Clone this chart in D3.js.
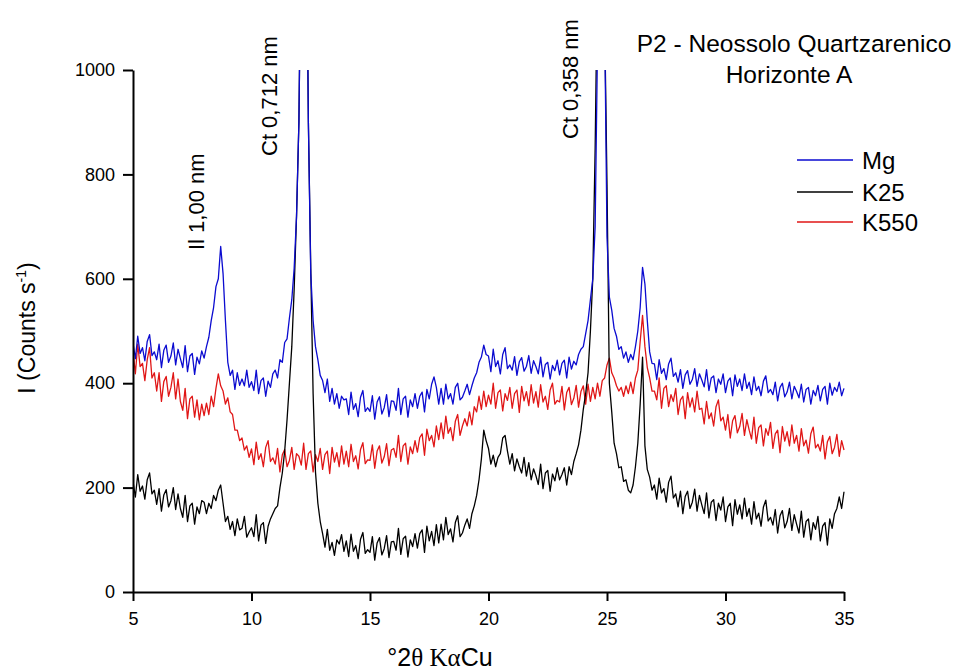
<!DOCTYPE html>
<html><head><meta charset="utf-8">
<script src="https://cdn.jsdelivr.net/npm/d3@7"></script>
<style>body{margin:0;background:#fff}svg{display:block}</style>
</head><body>
<svg id="chart" width="964" height="672"></svg>
<script>
// ---- data ----
const xTicks = [5, 10, 15, 20, 25, 30, 35];
const yTicks = [0, 200, 400, 600, 800, 1000];
const seriesNames = ["Mg", "K25", "K550"];
const angleStart = 5;   // °2θ of first sample
const angleStep = 0.1;  // °2θ between samples
const peakLabels = ["Il 1,00 nm", "Ct 0,712 nm", "Ct 0,358 nm"];
const titleLines = ["P2 - Neossolo Quartzarenico", "Horizonte A"];

const mg = [
 477,447,490,457,468,443,480,493,453,460,
 445,475,430,463,473,440,452,477,435,465,
 447,430,472,422,452,457,417,450,437,462,
 448,470,488,520,545,585,600,662,610,520,
 440,415,425,388,420,396,408,395,425,392,
 403,386,425,380,405,410,375,404,392,418,
 425,410,445,440,478,485,525,560,620,720,
 900,1300,1600,1400,900,610,520,470,445,415,
 405,382,408,365,390,360,380,352,375,368,
 370,340,383,350,361,336,373,386,346,353,
 346,376,331,364,374,341,353,378,336,366,
 365,348,390,340,370,375,335,368,355,380,
 352,375,383,345,388,370,398,412,392,360,
 390,360,398,370,380,360,392,400,368,373,
 385,398,378,395,410,420,440,450,473,455,
 452,422,465,432,443,418,455,468,428,435,
 425,451,415,441,449,423,432,453,419,443,
 432,418,450,412,436,440,408,434,424,444,
 416,438,444,410,450,427,442,435,455,465,
 470,495,520,560,600,700,1050,1500,1400,1100,
 680,565,540,505,490,465,470,448,460,440,
 455,445,470,500,545,622,590,520,460,438,
 437,407,445,419,428,407,437,448,413,420,
 402,426,390,416,424,398,407,428,394,418,
 406,393,426,386,410,414,382,408,398,418,
 382,404,410,376,416,394,408,386,418,390,
 402,378,412,386,394,376,404,414,382,388,
 378,402,366,392,400,374,383,402,370,394,
 384,372,398,364,388,392,360,386,376,396,
 366,388,394,360,400,377,392,384,402,376,
 390
];
const k25 = [
 212,182,225,193,203,178,215,228,188,195,
 168,198,155,186,196,163,175,200,158,188,
 160,143,185,135,165,170,130,163,150,175,
 172,150,170,160,185,175,195,205,170,135,
 145,120,135,108,140,119,122,145,105,115,
 123,106,148,98,128,133,93,126,140,150,
 160,165,200,228,270,330,400,470,580,720,
 900,1300,1600,1400,900,620,380,230,170,135,
 112,86,120,80,95,70,100,92,110,78,
 98,68,111,78,89,64,101,114,74,81,
 76,106,61,94,104,71,83,108,66,96,
 97,80,122,72,102,107,67,100,87,112,
 84,112,119,76,126,98,116,89,129,94,
 130,100,143,110,121,96,133,146,106,113,
 128,140,122,150,165,185,215,255,310,290,
 275,245,262,240,258,265,295,300,270,245,
 265,232,255,240,228,258,222,248,215,236,
 223,206,245,198,228,233,193,226,213,238,
 215,225,238,205,240,225,250,265,282,310,
 350,380,420,500,600,850,1200,1550,1450,1100,
 780,400,345,285,265,238,240,212,215,195,
 190,205,240,285,360,450,280,235,220,195,
 205,178,218,190,198,172,210,222,180,188,
 163,193,150,183,193,160,172,197,155,185,
 167,150,190,142,172,177,137,170,157,182,
 135,163,170,127,177,149,167,140,180,145,
 160,130,173,140,151,126,163,176,136,143,
 128,158,113,146,156,123,135,160,118,148,
 130,113,155,105,135,140,100,133,120,145,
 98,126,133,90,140,122,150,160,182,160,
 192
];
const k550 = [
 462,418,475,432,438,405,445,468,410,420,
 385,420,365,403,413,375,392,420,370,408,
 365,348,390,332,370,375,335,368,330,360,
 338,362,340,375,355,390,418,395,385,360,
 372,345,340,310,310,290,295,272,280,258,
 274,244,287,254,265,240,277,290,250,257,
 245,275,230,263,273,240,252,277,235,265,
 260,243,285,235,265,270,230,263,250,275,
 235,263,270,227,277,249,267,240,280,245,
 270,240,283,250,261,236,273,286,246,253,
 252,282,237,270,280,247,259,284,242,272,
 275,258,300,250,280,285,245,278,265,290,
 268,296,303,262,312,290,300,278,318,292,
 324,294,337,304,315,290,327,340,300,318,
 332,318,345,320,355,345,375,350,385,355,
 377,360,400,352,382,387,347,380,367,392,
 352,380,387,344,394,366,384,357,397,362,
 384,354,397,364,375,350,387,400,360,367,
 364,394,349,382,392,359,371,396,354,384,
 395,360,398,365,392,370,400,375,405,410,
 435,448,420,410,395,385,392,375,395,380,
 402,380,410,425,480,530,470,430,410,385,
 385,368,410,352,390,395,355,378,365,390,
 340,368,375,332,382,354,372,345,385,350,
 352,322,365,332,343,318,355,368,328,335,
 310,340,295,328,338,305,317,342,300,330,
 310,293,335,285,315,320,280,313,300,325,
 275,303,310,267,317,289,307,280,320,285,
 300,270,313,280,291,266,303,316,276,283,
 270,300,255,288,298,265,277,302,260,290,
 272
];

// ---- drawing ----
const FONT = "'Liberation Sans', Arial, sans-serif";
const SERIF = "'Liberation Serif', 'Times New Roman', serif";
const colors = {Mg: "#0b0bd0", K25: "#000000", K550: "#e01616"};
const seriesData = {Mg: mg, K25: k25, K550: k550};

const svg = d3.select("#chart");
const pL = 133, pR = 844, pT = 70, pB = 592;
const x = d3.scaleLinear().domain([5, 35]).range([pL, pR]);
const y = d3.scaleLinear().domain([0, 1000]).range([pB, pT]);

svg.append("defs").append("clipPath").attr("id", "plotclip")
  .append("rect").attr("x", pL).attr("y", pT).attr("width", pR - pL + 2).attr("height", pB - pT);

const line = d3.line()
  .x((d, i) => x(angleStart + i * angleStep))
  .y(d => y(d));

const plot = svg.append("g").attr("clip-path", "url(#plotclip)");
["K550", "K25", "Mg"].forEach(name => {
  plot.append("path").datum(seriesData[name])
    .attr("fill", "none").attr("stroke", colors[name])
    .attr("stroke-width", 1.3).attr("stroke-linejoin", "round")
    .attr("d", line);
});

// axes
const yAxis = svg.append("g").attr("transform", `translate(${pL},0)`)
  .call(d3.axisLeft(y).tickValues(yTicks).tickFormat(d3.format("d")).tickSize(10).tickSizeOuter(0).tickPadding(8));
const xAxis = svg.append("g").attr("transform", `translate(0,${pB})`)
  .call(d3.axisBottom(x).tickValues(xTicks).tickFormat(d3.format("d")).tickSize(9).tickSizeOuter(0).tickPadding(11));
[yAxis, xAxis].forEach(g => {
  g.selectAll("path, line").attr("stroke", "#000").attr("stroke-width", 2);
  g.selectAll("text").attr("fill", "#000").style("font-family", FONT).style("font-size", "18px");
});

// axis titles
const yl = svg.append("text").attr("transform", "translate(35,328) rotate(-90)")
  .attr("text-anchor", "middle").style("font-family", FONT).style("font-size", "23px").attr("fill", "#000");
yl.append("tspan").text("I (Counts s");
yl.append("tspan").attr("dy", -9).style("font-size", "14px").text("-1");
yl.append("tspan").attr("dy", 9).text(")");

const xl = svg.append("text").attr("x", 440).attr("y", 666).attr("text-anchor", "middle")
  .attr("fill", "#000").style("font-size", "25px");
xl.append("tspan").style("font-family", FONT).text("°2");
xl.append("tspan").style("font-family", SERIF).text("θ Kα");
xl.append("tspan").style("font-family", FONT).text("Cu");

// peak annotations (rotated)
const annPos = [[204, 250], [277, 156], [578, 139]];
peakLabels.forEach((t, i) => {
  svg.append("text").attr("transform", `translate(${annPos[i][0]},${annPos[i][1]}) rotate(-90)`)
    .attr("text-anchor", "start").style("font-family", FONT).style("font-size", "22px")
    .attr("fill", "#000").text(t);
});

// title
svg.append("text").attr("x", 794).attr("y", 52).attr("text-anchor", "middle")
  .style("font-family", FONT).style("font-size", "24.5px").attr("fill", "#000").text(titleLines[0]);
svg.append("text").attr("x", 789).attr("y", 83).attr("text-anchor", "middle")
  .style("font-family", FONT).style("font-size", "24.5px").attr("fill", "#000").text(titleLines[1]);

// legend
const legY = [160, 192, 222];
seriesNames.forEach((n, i) => {
  svg.append("line").attr("x1", 797).attr("x2", 853).attr("y1", legY[i]).attr("y2", legY[i])
    .attr("stroke", colors[n]).attr("stroke-width", 1.3);
  svg.append("text").attr("x", 862).attr("y", legY[i] + 8.5)
    .style("font-family", FONT).style("font-size", "24px").attr("fill", "#000").text(n);
});
</script>
</body></html>
